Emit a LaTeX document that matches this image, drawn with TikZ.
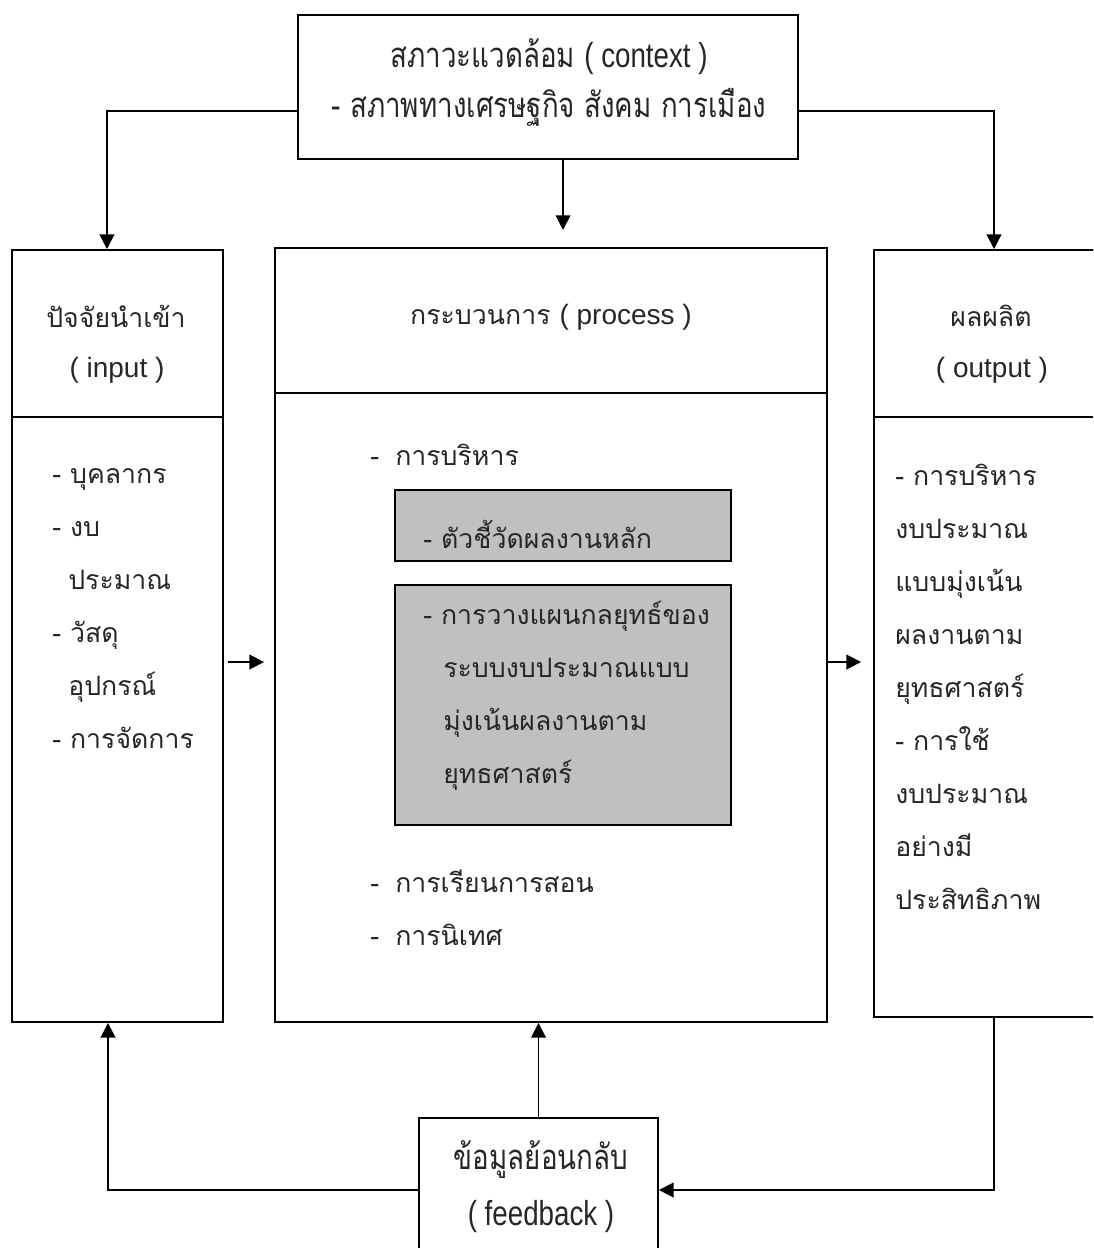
\documentclass[tikz,border=0pt]{standalone}
\usepackage{fontspec}
\setmainfont{Liberation Sans}
\newfontfamily\thaifont[Script=Thai]{Loma}
\newfontfamily\thainarrow[Script=Thai,FakeStretch=0.8]{Loma}
\newfontfamily\latinnarrow[FakeStretch=0.8]{Liberation Sans}
\usetikzlibrary{arrows.meta,fit}

\definecolor{boxgrey}{HTML}{C0C0C0}
\definecolor{inkgrey}{HTML}{262626}

\tikzset{
  frame/.style={draw, line width=1.4pt, inner sep=0pt},
  shaded/.style={frame, fill=boxgrey},
  link/.style={line width=1.3pt, -{Triangle[length=11pt,width=11pt]}},
  thai/.style={inner sep=0pt, text=inkgrey, font=\thaifont\fontsize{20}{39.75}\selectfont},
  narrow/.style={inner sep=0pt, text=inkgrey, font=\thainarrow\fontsize{26}{37.5}\selectfont}
}

\begin{document}
\begin{tikzpicture}[x=0.75pt,y=0.75pt,yscale=-1,xscale=1]
\useasboundingbox (0,0) rectangle (1093,1248);
\clip (0,0) rectangle (1093,1248);

% Boxes
\node (ctx) [frame, fit={(298,15) (798,159)}] {};
\node (inp) [frame, fit={(12,250) (223,1022)}] {};
\node (proc) [frame, fit={(275,248) (827,1022)}] {};
\node (out) [frame, fit={(874,250) (1114,1017)}] {};
\node (fb) [frame, fit={(419,1118) (658,1262)}] {};
\node (kpi) [shaded, fit={(395,490) (731,561)}] {};
\node (plan) [shaded, fit={(395,585) (731,825)}] {};

% Header dividers
\coordinate (sideDiv) at (0,417);
\coordinate (procDiv) at (0,393);
\draw [line width=1.4pt] (inp.west |- sideDiv) -- (inp.east |- sideDiv);
\draw [line width=1.4pt] (proc.west |- procDiv) -- (proc.east |- procDiv);
\draw [line width=1.4pt] (out.west |- sideDiv) -- (out.east |- sideDiv);

% Context text
\node (ctxT) [narrow, align=center] at (549,83) {สภาวะแวดล้อม {\latinnarrow ( context )}\\- สภาพทางเศรษฐกิจ สังคม การเมือง};

% Headers
\node (inpT) [thai] at (116,316) {ปัจจัยนำเข้า};
\node (inpS) [thai] at (117,370) {\rmfamily\fontsize{21}{24}\selectfont ( input )};
\node (procT) [thai] at (551,317) {กระบวนการ {\rmfamily\fontsize{21}{24}\selectfont ( process )}};
\node (outT) [thai] at (991,316) {ผลผลิต};
\node (outS) [thai] at (992,370) {\rmfamily\fontsize{21}{24}\selectfont ( output )};

% Lists
\node (inpL) [thai, align=left, anchor=north west] at (52,468) {- บุคลากร\\- งบ\\\hspace{12pt}ประมาณ\\- วัสดุ\\\hspace{12pt}อุปกรณ์\\- การจัดการ};
\node (pAdm) [thai, anchor=west] at (370,455) {\makebox[18.75pt][l]{-}การบริหาร};
\node (kpiT) [thai, anchor=west] at (423,534) {- ตัวชี้วัดผลงานหลัก};
\node (planT) [thai, align=left, anchor=north west] at (423,601) {- การวางแผนกลยุทธ์ของ\\\hspace{15pt}ระบบงบประมาณแบบ\\\hspace{15pt}มุ่งเน้นผลงานตาม\\\hspace{15pt}ยุทธศาสตร์};
\node (pTeach) [thai, anchor=west] at (370,881) {\makebox[18.75pt][l]{-}การเรียนการสอน};
\node (pSup) [thai, anchor=west] at (370,935) {\makebox[18.75pt][l]{-}การนิเทศ};
\node (outL) [thai, align=left, anchor=north west] at (895,464) {- การบริหาร\\งบประมาณ\\แบบมุ่งเน้น\\ผลงานตาม\\ยุทธศาสตร์\\- การใช้\\งบประมาณ\\อย่างมี\\ประสิทธิภาพ};

% Feedback text
\node (fbT) [narrow] at (541,1160) {ข้อมูลย้อนกลับ};
\node (fbS) [narrow] at (541,1217) {\latinnarrow ( feedback )};

% Connectors
\coordinate (ctxRow) at (0,111);
\coordinate (mainRow) at (0,662);
\coordinate (ctxTip) at (563,230);
\draw [link] (ctx.west |- ctxRow) -| ([xshift=-7.9pt]inp.north);
\draw [link] (ctx.east |- ctxRow) -| (out.north);
\draw [link] (ctx.south -| ctxTip) -- (ctxTip);
\draw [link] ([xshift=3pt]inp.east |- mainRow) -- ([xshift=-7.5pt]proc.west |- mainRow);
\draw [link] (proc.east |- mainRow) -- ([xshift=-9pt]out.west |- mainRow);
\draw [link] (fb.north) -- (fb.north |- proc.south);
\draw [link] (fb.west) -| ([xshift=-7.1pt]inp.south);
\draw [link] (out.south) |- (fb.east);

\end{tikzpicture}
\end{document}
